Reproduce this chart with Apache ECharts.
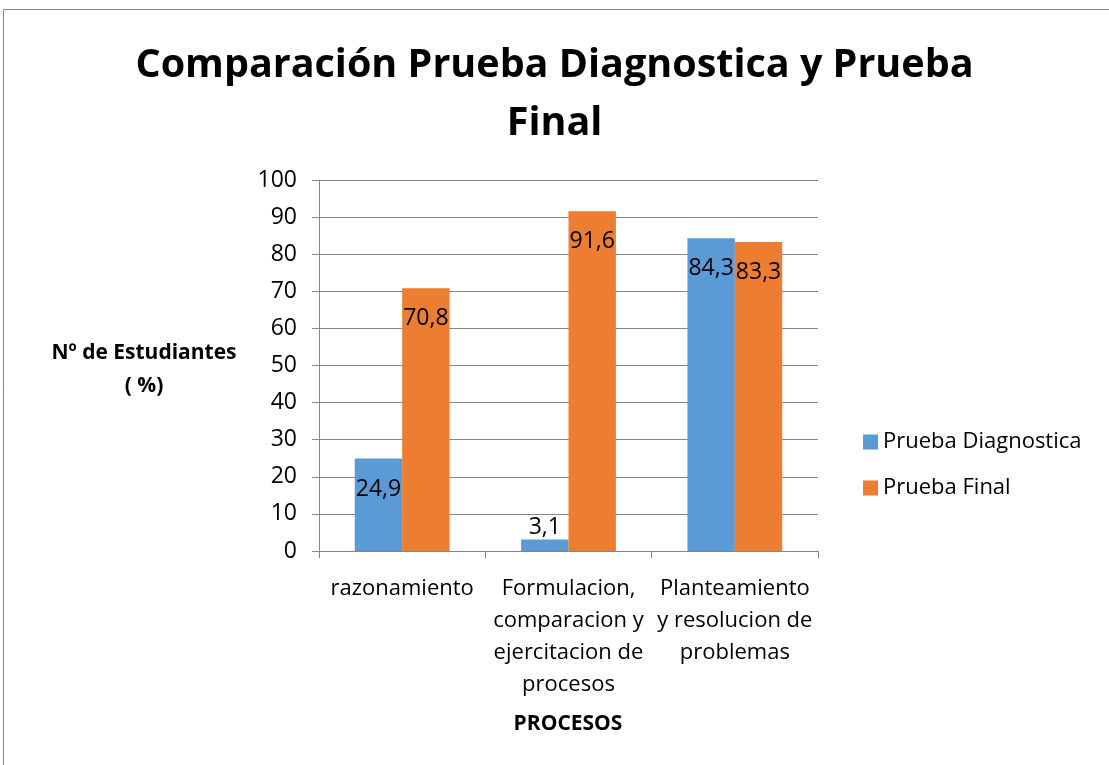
<!DOCTYPE html>
<html>
<head>
<meta charset="utf-8">
<script src="https://cdn.jsdelivr.net/npm/echarts@6/dist/echarts.min.js"></script>
<style>
  html, body { margin: 0; padding: 0; background: #fff; }
  #chart { width: 1109px; height: 765px; }
</style>
</head>
<body>
<div id="chart"></div>
<script>
// data
const categories = [
  'razonamiento',
  'Formulacion,\ncomparacion y\nejercitacion de\nprocesos',
  'Planteamiento\ny resolucion de\nproblemas',
];
const seriesNames = ['Prueba Diagnostica', 'Prueba Final'];
const diagnostica = [24.9, 3.1, 84.3];
const final = [70.8, 91.6, 83.3];
const yTicks = { min: 0, max: 100, interval: 10 };

const FONT = '"Open Sans", "Noto Sans", sans-serif';
const colors = ['#5B9BD5', '#ED7D31'];

const fmt = (p) => String(p.value).replace('.', ',');

const chart = echarts.init(document.getElementById('chart'));

function labelFor(v) {
  // small values get the label on top of the bar, the rest inside the end
  if (v < 10) {
    return { show: true, position: 'top', distance: 1 };
  }
  return { show: true, position: 'insideTop', distance: 19 };
}

chart.setOption({
  backgroundColor: '#fff',
  animation: false,
  textStyle: { fontFamily: FONT },
  title: {
    text: 'Comparación Prueba Diagnostica y Prueba\nFinal',
    left: 'center',
    top: 32,
    textStyle: {
      fontFamily: FONT,
      fontSize: 39.5,
      fontWeight: 'bold',
      color: '#000',
      lineHeight: 58,
    },
  },
  legend: {
    orient: 'vertical',
    left: 858,
    top: 426,
    itemWidth: 15,
    itemHeight: 15,
    itemGap: 24,
    icon: 'rect',
    data: seriesNames,
    textStyle: { fontFamily: FONT, fontSize: 22, color: '#000' },
  },
  grid: {
    left: 319,
    right: 291,
    top: 180,
    bottom: 214,
  },
  graphic: [
    {
      type: 'polyline',
      shape: { points: [[3.5, 765], [3.5, 9.5], [1109, 9.5]] },
      style: { stroke: '#888', lineWidth: 1, fill: null },
      silent: true,
    },
    {
      type: 'text',
      x: 144,
      y: 337,
      style: {
        text: 'Nº de Estudiantes\n( %)',
        align: 'center',
        fontFamily: FONT,
        fontSize: 21,
        fontWeight: 'bold',
        lineHeight: 33,
        fill: '#000',
      },
    },
    {
      type: 'text',
      x: 568,
      y: 714,
      style: {
        text: 'PROCESOS',
        align: 'center',
        fontFamily: FONT,
        fontSize: 21,
        fontWeight: 'bold',
        fill: '#000',
      },
    },
  ],
  xAxis: {
    type: 'category',
    data: categories,
    axisLine: { lineStyle: { color: '#868686' } },
    axisTick: { show: true, length: 7, lineStyle: { color: '#868686' } },
    axisLabel: {
      interval: 0,
      margin: 22,
      color: '#000',
      fontFamily: FONT,
      fontSize: 22,
      lineHeight: 32,
    },
  },
  yAxis: {
    type: 'value',
    min: yTicks.min,
    max: yTicks.max,
    interval: yTicks.interval,
    axisLine: { show: true, lineStyle: { color: '#868686' } },
    axisTick: { show: true, length: 7, lineStyle: { color: '#868686' } },
    splitLine: { lineStyle: { color: '#868686' } },
    axisLabel: {
      margin: 22,
      color: '#000',
      fontFamily: FONT,
      fontSize: 23,
    },
  },
  series: [
    {
      name: seriesNames[0],
      type: 'bar',
      barGap: '0%',
      barCategoryGap: '43%',
      itemStyle: { color: colors[0] },
      label: { color: '#000', fontFamily: FONT, fontSize: 23, formatter: fmt },
      data: diagnostica.map((v) => ({ value: v, label: labelFor(v) })),
    },
    {
      name: seriesNames[1],
      type: 'bar',
      barGap: '0%',
      barCategoryGap: '43%',
      itemStyle: { color: colors[1] },
      label: { color: '#000', fontFamily: FONT, fontSize: 23, formatter: fmt },
      data: final.map((v) => ({ value: v, label: labelFor(v) })),
    },
  ],
});
</script>
</body>
</html>
